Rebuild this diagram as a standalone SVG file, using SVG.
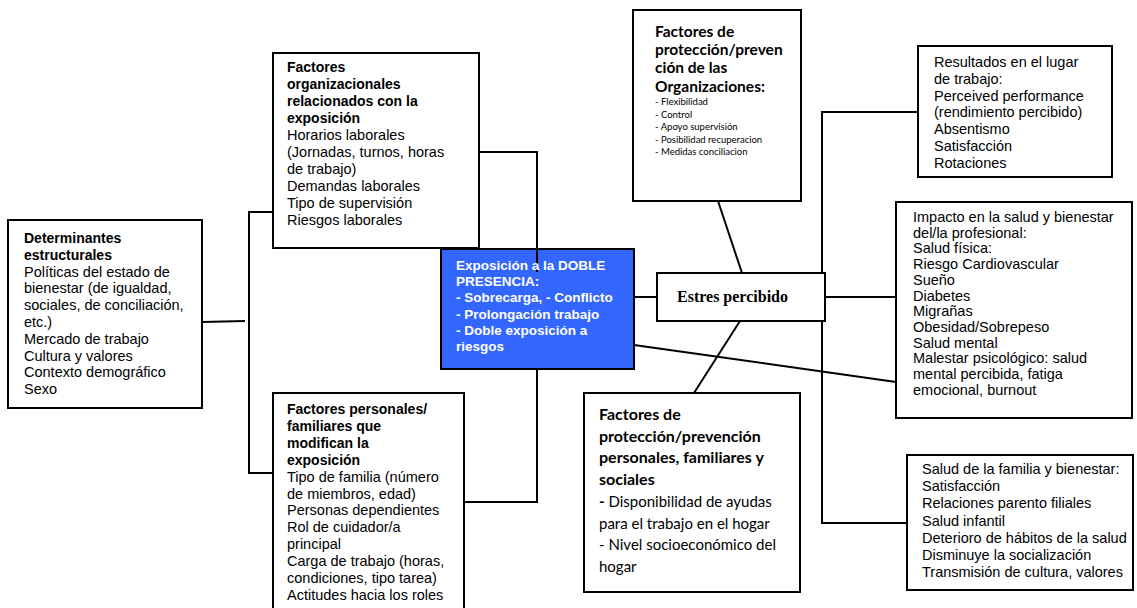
<svg xmlns="http://www.w3.org/2000/svg" width="1137" height="608" viewBox="0 0 1137 608">
<style>
.box{fill:#fff;stroke:#000;stroke-width:2}
.blue{fill:#3366ff;stroke:#000;stroke-width:2}
.c{fill:none;stroke:#000;stroke-width:2}
.t{font-family:"Liberation Sans",Arial,sans-serif;font-size:14.5px;fill:#000}
.b{font-weight:bold;font-size:14px}
.bt{font-family:"Liberation Sans",Arial,sans-serif;font-size:13.5px;font-weight:bold;fill:#fff}
.k{font-family:Lato,"Open Sans",sans-serif;fill:#000}
.es{font-family:"Liberation Serif","Times New Roman",serif;font-size:16px;font-weight:bold;fill:#000}
</style>
<rect width="1137" height="608" fill="#fff"/>
<g id="connectors">
<polyline class="c" points="202,322 245,321"/>
<polyline class="c" points="280,212 249,212 249,473 280,473"/>
<line class="c" x1="276" y1="115" x2="276" y2="212"/>
<polyline class="c" points="479,152 537,152 537,272"/>
<polyline class="c" points="537,369 537,502 464,502"/>
<line class="c" x1="634" y1="297" x2="657" y2="297"/>
<line class="c" x1="718" y1="201" x2="742" y2="273"/>
<line class="c" x1="740" y1="321" x2="694" y2="393"/>
<line class="c" x1="825" y1="297" x2="896" y2="297"/>
<line class="c" x1="634" y1="345" x2="896" y2="382"/>
<polyline class="c" points="918,112 822,112 822,523 907,523"/>
</g>
<g id="determinantes">
<rect class="box" x="8" y="220" width="194" height="188"/>
<text class="t" x="24" y="243"><tspan class="b" x="24">Determinantes</tspan><tspan class="b" x="24" dy="16.8">estructurales</tspan><tspan x="24" dy="16.8">Políticas del estado de</tspan><tspan x="24" dy="16.8">bienestar (de igualdad,</tspan><tspan x="24" dy="16.8">sociales, de conciliación,</tspan><tspan x="24" dy="16.8">etc.)</tspan><tspan x="24" dy="16.8">Mercado de trabajo</tspan><tspan x="24" dy="16.8">Cultura y valores</tspan><tspan x="24" dy="16.8">Contexto demográfico</tspan><tspan x="24" dy="16.8">Sexo</tspan></text>
</g>
<g id="organizacionales">
<rect class="box" x="273" y="53" width="206" height="195"/>
<text class="t" x="287" y="72"><tspan class="b" x="287">Factores</tspan><tspan class="b" x="287" dy="17">organizacionales</tspan><tspan class="b" x="287" dy="17">relacionados con la</tspan><tspan class="b" x="287" dy="17">exposición</tspan><tspan x="287" dy="17">Horarios laborales</tspan><tspan x="287" dy="17">(Jornadas, turnos, horas</tspan><tspan x="287" dy="17">de trabajo)</tspan><tspan x="287" dy="17">Demandas laborales</tspan><tspan x="287" dy="17">Tipo de supervisión</tspan><tspan x="287" dy="17">Riesgos laborales</tspan></text>
</g>
<g id="personales">
<rect class="box" x="273" y="393" width="191" height="220"/>
<text class="t" x="287" y="414"><tspan class="b" x="287">Factores personales/</tspan><tspan class="b" x="287" dy="16.9">familiares que</tspan><tspan class="b" x="287" dy="16.9">modifican la</tspan><tspan class="b" x="287" dy="16.9">exposición</tspan><tspan x="287" dy="16.9">Tipo de familia (número</tspan><tspan x="287" dy="16.9">de miembros, edad)</tspan><tspan x="287" dy="16.9">Personas dependientes</tspan><tspan x="287" dy="16.9">Rol de cuidador/a</tspan><tspan x="287" dy="16.9">principal</tspan><tspan x="287" dy="16.9">Carga de trabajo (horas,</tspan><tspan x="287" dy="16.9">condiciones, tipo tarea)</tspan><tspan x="287" dy="16.9">Actitudes hacia los roles</tspan></text>
</g>
<g id="doble-presencia">
<rect class="blue" x="441" y="249" width="193" height="120"/>
<line class="c" x1="537" y1="249" x2="537" y2="272"/>
<text class="bt" x="456" y="270"><tspan x="456">Exposición a la DOBLE</tspan><tspan x="456" dy="16.2">PRESENCIA:</tspan><tspan x="456" dy="16.2">- Sobrecarga, - Conflicto</tspan><tspan x="456" dy="16.2">- Prolongación trabajo</tspan><tspan x="456" dy="16.2">- Doble exposición a</tspan><tspan x="456" dy="16.2">riesgos</tspan></text>
</g>
<g id="proteccion-organizaciones">
<rect class="box" x="633" y="10" width="168" height="191"/>
<text class="k" x="655" y="37" font-size="15.5" font-weight="bold"><tspan x="655">Factores de</tspan><tspan x="655" dy="18">protección/preven</tspan><tspan x="655" dy="18">ción de las</tspan><tspan x="655" dy="19">Organizaciones:</tspan></text>
<text class="k" x="655" y="105" font-size="9.5"><tspan x="655">- Flexibilidad</tspan><tspan x="655" dy="12.5">- Control</tspan><tspan x="655" dy="12.5">- Apoyo supervisión</tspan><tspan x="655" dy="12.5">- Posibilidad recuperacion</tspan><tspan x="655" dy="12.5">- Medidas conciliacion</tspan></text>
</g>
<g id="estres">
<rect class="box" x="657" y="273" width="168" height="48"/>
<text class="es" x="677" y="302">Estres percibido</text>
</g>
<g id="proteccion-personales">
<rect class="box" x="584" y="393" width="216" height="199"/>
<text class="k" x="599" y="420" font-size="15"><tspan x="599" font-weight="bold" font-size="16">Factores de</tspan><tspan x="599" dy="21.7" font-weight="bold" font-size="16">protección/prevención</tspan><tspan x="599" dy="21.7" font-weight="bold" font-size="16">personales, familiares y</tspan><tspan x="599" dy="21.7" font-weight="bold" font-size="16">sociales</tspan><tspan x="599" dy="21.7"><tspan font-weight="bold">-</tspan> Disponibilidad de ayudas</tspan><tspan x="599" dy="21.7">para el trabajo en el hogar</tspan><tspan x="599" dy="21.7">- Nivel socioeconómico del</tspan><tspan x="599" dy="21.7">hogar</tspan></text>
</g>
<g id="resultados">
<rect class="box" x="918" y="46" width="194" height="131"/>
<text class="t" x="934" y="67"><tspan x="934">Resultados en el lugar</tspan><tspan x="934" dy="16.8">de trabajo:</tspan><tspan x="934" dy="16.8">Perceived performance</tspan><tspan x="934" dy="16.8">(rendimiento percibido)</tspan><tspan x="934" dy="16.8">Absentismo</tspan><tspan x="934" dy="16.8">Satisfacción</tspan><tspan x="934" dy="16.8">Rotaciones</tspan></text>
</g>
<g id="impacto">
<rect class="box" x="896" y="202" width="236" height="216"/>
<text class="t" x="913" y="222"><tspan x="913">Impacto en la salud y bienestar</tspan><tspan x="913" dy="15.7">del/la profesional:</tspan><tspan x="913" dy="15.7">Salud física:</tspan><tspan x="913" dy="15.7">Riesgo Cardiovascular</tspan><tspan x="913" dy="15.7">Sueño</tspan><tspan x="913" dy="15.7">Diabetes</tspan><tspan x="913" dy="15.7">Migrañas</tspan><tspan x="913" dy="15.7">Obesidad/Sobrepeso</tspan><tspan x="913" dy="15.7">Salud mental</tspan><tspan x="913" dy="15.7">Malestar psicológico: salud</tspan><tspan x="913" dy="15.7">mental percibida, fatiga</tspan><tspan x="913" dy="15.7">emocional, burnout</tspan></text>
</g>
<g id="salud-familia">
<rect class="box" x="907" y="455" width="226" height="135"/>
<text class="t" x="922" y="474"><tspan x="922">Salud de la familia y bienestar:</tspan><tspan x="922" dy="17.2">Satisfacción</tspan><tspan x="922" dy="17.2">Relaciones parento filiales</tspan><tspan x="922" dy="17.2">Salud infantil</tspan><tspan x="922" dy="17.2">Deterioro de hábitos de la salud</tspan><tspan x="922" dy="17.2">Disminuye la socialización</tspan><tspan x="922" dy="17.2">Transmisión de cultura, valores</tspan></text>
</g>
</svg>
